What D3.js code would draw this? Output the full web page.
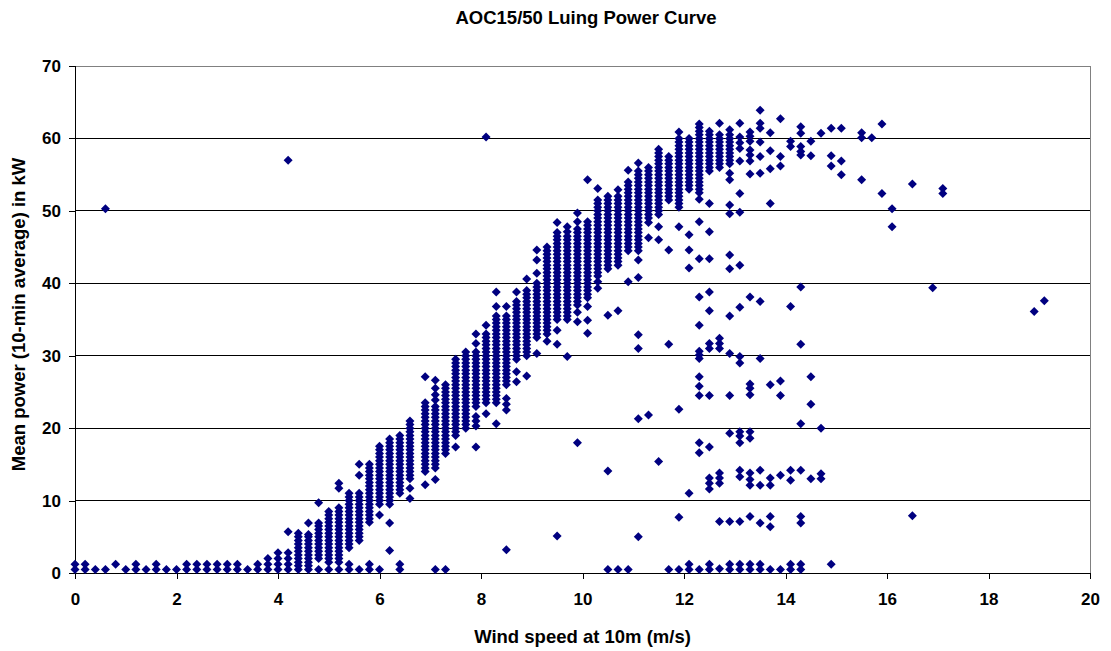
<!DOCTYPE html>
<html lang="en">
<head>
<meta charset="UTF-8">
<title>AOC15/50 Luing Power Curve</title>
<script src="https://cdn.jsdelivr.net/npm/d3@7"></script>
<style>
  body { margin: 0; background: #fff; }
  text { font-family: Arial, "Liberation Sans", sans-serif; font-weight: bold; fill: #000; }
</style>
</head>
<body>
<svg id="chart" width="1111" height="651"></svg>
<script>
// wind speed bins (m/s) and the 10-min mean power readings (kW) seen in each bin
const windBins = [
  0.0, 0.2, 0.4, 0.6, 0.8, 1.0, 1.2, 1.4, 1.6, 1.8, 2.0, 2.2, 2.4, 2.6, 2.8, 3.0, 3.2, 3.4, 3.6, 3.8,
  4.0, 4.2, 4.4, 4.6, 4.8, 5.0, 5.2, 5.4, 5.6, 5.8, 6.0, 6.2, 6.4, 6.6,
  6.9, 7.1, 7.3, 7.5, 7.7, 7.9, 8.1, 8.3, 8.5, 8.7, 8.9, 9.1, 9.3, 9.5, 9.7, 9.9,
  10.1, 10.3, 10.5, 10.7, 10.9, 11.1, 11.3, 11.5, 11.7, 11.9, 12.1, 12.3, 12.5, 12.7, 12.9,
  13.1, 13.3, 13.5, 13.7, 13.9, 14.1, 14.3, 14.5, 14.7, 14.9, 15.1, 15.5, 15.7, 15.9,
  16.1, 16.5, 16.9, 17.1, 18.9, 19.1
];

const powerReadings = [
  [0.5, 1.2], [0.5, 1.2], [0.5], [0.5, 50.3], [1.2], [0.5], [0.5, 1.2], [0.5], [0.5, 1.2], [0.5],
  [0.5], [0.5, 1.2], [0.5, 1.2], [0.5, 1.2], [0.5, 1.2], [0.5, 1.2], [0.5, 1.2], [0.5], [0.5, 1.2], [0.5, 1.2, 2.0],
  [0.5, 1.2, 2.0, 2.8],
  [0.5, 1.2, 2.0, 2.8, 5.7, 57.0],
  [0.5, 1, 1.5, 2, 2.5, 3, 3.5, 4, 4.5, 5, 5.5],
  [0.5, 1, 1.5, 2, 2.5, 3, 3.5, 4, 4.5, 5, 5.3, 6.9],
  [0.5, 2, 2.5, 3, 3.5, 4, 4.5, 5, 5.5, 6, 6.5, 6.9, 9.7],
  [0.5, 1.5, 2, 2.5, 3, 3.5, 4, 4.5, 5, 5.5, 6, 6.5, 7, 7.5, 8, 8.5],
  [0.5, 1.5, 2, 2.5, 3, 3.5, 4, 4.5, 5, 5.5, 6, 6.5, 7, 7.5, 8, 8.5, 9, 11.7, 12.4],
  [0.5, 1.2, 3.5, 4, 4.5, 5, 5.5, 6, 6.5, 7, 7.5, 8, 8.5, 9, 9.5, 10, 10.5, 11],
  [0.5, 4.5, 5, 5.5, 6, 6.5, 7, 7.5, 8, 8.5, 9, 9.5, 10, 10.5, 11, 13.5, 15],
  [0.5, 1.2, 7, 7.5, 8, 8.5, 9, 9.5, 10, 10.5, 11, 11.5, 12, 12.5, 13, 13.5, 14, 14.5, 15],
  [0.5, 8, 9.5, 10, 10.5, 11, 11.5, 12, 12.5, 13, 13.5, 14, 14.5, 15, 15.5, 16, 16.5, 17, 17.5],
  [3.1, 6.9, 9.5, 10, 10.5, 11, 11.5, 12, 12.5, 13, 13.5, 14, 14.5, 15, 15.5, 16, 16.5, 17, 17.5, 18, 18.5],
  [0.5, 1.2, 11, 11.5, 12, 12.5, 13, 13.5, 14, 14.5, 15, 15.5, 16, 16.5, 17, 17.5, 18, 18.5, 19],
  [10.3, 11.7, 13, 13.5, 14, 14.5, 15, 15.5, 16, 16.5, 17, 17.5, 18, 18.5, 19, 19.5, 20, 20.5, 21],
  [12.2, 14, 14.5, 15, 15.5, 16, 16.5, 17, 17.5, 18, 18.5, 19, 19.5, 20, 20.5, 21, 21.5, 22, 22.5, 23, 23.5, 27.1],
  [0.5, 12.9, 14.5, 15, 15.5, 16, 16.5, 17, 17.5, 18, 18.5, 19, 19.5, 20, 20.5, 21, 21.5, 22, 22.5, 23, 23.9, 24.6, 25.5, 26.6],
  [0.5, 16.5, 17, 17.5, 18, 18.5, 19, 19.5, 20, 20.5, 21, 21.5, 22, 22.5, 23, 23.5, 24, 24.5, 25, 25.5, 26],
  [17.4, 19, 19.5, 20, 20.5, 21, 21.5, 22, 22.5, 23, 23.5, 24, 24.5, 25, 25.5, 26, 26.5, 27, 27.5, 28, 28.5, 29, 29.5],
  [20, 20.5, 21, 21.5, 22, 22.5, 23, 23.5, 24, 24.5, 25, 25.5, 26, 26.5, 27, 27.5, 28, 28.5, 29, 29.5, 30, 30.5],
  [17.4, 20.3, 21, 21.6, 23, 23.5, 24, 24.5, 25, 25.5, 26, 26.5, 27, 27.5, 28, 28.5, 29, 29.5, 30, 30.5, 31.7, 33],
  [22, 23.5, 24, 24.5, 25, 25.5, 26, 26.5, 27, 27.5, 28, 28.5, 29, 29.5, 30, 30.5, 31, 31.5, 32, 32.5, 33, 34.2, 60.2],
  [20.6, 23.5, 24, 24.5, 25, 25.5, 26, 26.5, 27, 27.5, 28, 28.5, 29, 29.5, 30, 30.5, 31, 31.5, 32, 32.5, 33, 33.5, 34, 34.5, 35, 35.5, 36.8, 38.8],
  [3.2, 22.5, 23.3, 24.1, 26, 26.5, 27, 27.5, 28, 28.5, 29, 29.5, 30, 30.5, 31, 31.5, 32, 32.5, 33, 33.5, 34, 34.5, 35, 35.5, 36.8],
  [26.4, 27.8, 29.5, 30, 30.5, 31, 31.5, 32, 32.5, 33, 33.5, 34, 34.5, 35, 35.5, 36, 36.5, 37, 37.5, 38.8],
  [27.2, 30, 30.5, 31, 31.5, 32, 32.5, 33, 33.5, 34, 34.5, 35, 35.5, 36, 36.5, 37, 37.5, 38, 38.5, 39, 40.6],
  [30.3, 32.5, 33, 33.5, 34, 34.5, 35, 35.5, 36, 36.5, 37, 37.5, 38, 38.5, 39, 39.5, 40, 41.4, 43.2, 44.6],
  [32, 33, 33.5, 34, 34.5, 35, 35.5, 36, 36.5, 37, 37.5, 38, 38.5, 39, 39.5, 40, 40.5, 41, 41.5, 42, 42.5, 43, 43.5, 44, 44.5, 45],
  [5.1, 31.6, 33.5, 35, 35.5, 36, 36.5, 37, 37.5, 38, 38.5, 39, 39.5, 40, 40.5, 41, 41.5, 42, 42.5, 43, 43.5, 44, 44.5, 45, 45.5, 46, 46.5, 47, 48.4],
  [29.9, 35, 35.5, 36, 36.5, 37, 37.5, 38, 38.5, 39, 39.5, 40, 40.5, 41, 41.5, 42, 42.5, 43, 43.5, 44, 44.5, 45, 45.5, 46, 46.5, 47.1, 47.8],
  [18, 34.7, 36, 37, 37.5, 38, 38.5, 39, 39.5, 40, 40.5, 41, 41.5, 42, 42.5, 43, 43.5, 44, 44.5, 45, 45.5, 46, 46.5, 47, 47.5, 48.5, 49.7],
  [33.1, 34.9, 36.8, 38, 38.5, 39, 39.5, 40, 40.5, 41, 41.5, 42, 42.5, 43, 43.5, 44, 44.5, 45, 45.5, 46, 46.5, 47, 47.5, 48, 48.5, 54.3],
  [39.3, 40.2, 41, 41.5, 42, 42.5, 43, 43.5, 44, 44.5, 45, 45.5, 46, 46.5, 47, 47.5, 48, 48.5, 49, 49.5, 50, 50.5, 51, 51.5, 53.1],
  [0.5, 14.1, 35.6, 42, 42.5, 43, 43.5, 44, 44.5, 45, 45.5, 46, 46.5, 47, 47.5, 48, 48.5, 49, 49.5, 50, 50.5, 51, 51.5, 52],
  [0.5, 36.2, 42.5, 43, 43.5, 44, 44.5, 45, 45.5, 46, 46.5, 47, 47.5, 48, 48.5, 49, 49.5, 50, 50.5, 51, 51.5, 52, 52.9],
  [0.5, 40.2, 44.5, 45, 45.5, 46, 46.5, 47, 47.5, 48, 48.5, 49, 49.5, 50, 50.5, 51, 51.5, 52, 52.5, 53, 53.5, 54, 55.6],
  [5, 21.3, 31, 32.9, 40.8, 43.2, 44.5, 45, 45.5, 46, 46.5, 47, 47.5, 48, 48.5, 49, 49.5, 50, 50.5, 51, 51.5, 52, 52.5, 53, 53.5, 54, 54.5, 55, 55.5, 56.6],
  [21.8, 46.3, 48.4, 49, 49.5, 50, 50.5, 51, 51.5, 52, 52.5, 53, 53.5, 54, 54.5, 55, 55.5, 56],
  [15.4, 46, 47.8, 49.5, 50, 50.5, 51, 51.5, 52, 52.5, 53, 53.5, 54, 54.5, 55, 55.5, 56, 56.5, 57, 57.5, 58, 58.5],
  [0.5, 31.6, 44.6, 51.5, 52, 52.5, 53, 53.5, 54, 54.5, 55, 55.5, 56, 56.5, 57, 57.5],
  [0.5, 7.7, 22.6, 47.8, 50.5, 51, 51.5, 52, 52.5, 53, 53.5, 54, 54.5, 55, 55.5, 56, 56.5, 57, 57.5, 58, 58.5, 59, 59.5, 60, 60.9],
  [0.5, 1.2, 11, 42.1, 44.6, 46.7, 53, 53.5, 54, 54.5, 55, 55.5, 56, 56.5, 57, 57.5, 58, 58.5, 59, 59.5, 60],
  [0.5, 16.6, 18, 24.5, 25.8, 27.1, 29.6, 30.1, 30.6, 34.2, 38.1, 43.4, 48.5, 51.6, 52.5, 53, 53.5, 54, 54.5, 55, 55.5, 56, 56.5, 57, 57.5, 58, 58.5, 59, 59.5, 60, 60.5, 61, 61.5, 62],
  [0.5, 1.2, 11.6, 12.4, 13.1, 17.4, 24.5, 31, 31.7, 36.2, 38.8, 43.4, 47.1, 51, 55.5, 56, 56.5, 57, 57.5, 58, 58.5, 59, 59.5, 60, 60.5, 61],
  [0.6, 7.1, 12.4, 13.1, 13.8, 31, 31.7, 32.4, 56, 56.5, 57, 57.5, 58, 58.5, 59, 59.5, 60, 60.5, 62.1],
  [0.5, 1.2, 7.1, 19.3, 24.5, 30.3, 35.5, 42, 43.9, 49.6, 50.8, 54.3, 55.2, 56.5, 57, 57.5, 58, 58.5, 59, 59.5, 60, 60.5, 61.2],
  [0.5, 1.2, 7.1, 13.3, 14.2, 18, 18.9, 19.5, 29, 29.9, 36.7, 42.5, 49.8, 52.4, 56.9, 58.6, 59.4, 60.2, 62.1],
  [0.5, 1.2, 7.8, 12.1, 12.9, 13.8, 18.6, 19.5, 24.6, 25.5, 26.1, 38.1, 55.1, 56.9, 57.7, 58.4, 59.6, 60.3, 60.9],
  [0.5, 1.2, 6.9, 12.1, 14.2, 29.6, 37.5, 55.2, 57.5, 59.5, 61.4, 62.1, 63.9],
  [0.5, 6.4, 7.8, 12.1, 13.1, 26, 51, 55.8, 58.3, 60.8],
  [0.5, 13.5, 24.5, 26.5, 56.2, 57.5, 62.7],
  [0.5, 1.2, 12.8, 14.2, 36.8, 58.9, 59.6],
  [0.5, 1.2, 6.9, 7.8, 14.2, 20.6, 31.6, 39.5, 57.7, 58.2, 58.9, 60.7, 61.6],
  [13, 23.3, 27.1, 57.6, 59.6],
  [13, 13.7, 20, 60.7],
  [1.2, 56.2, 57.6, 61.4],
  [55, 56.9, 61.4],
  [54.3, 60.1, 60.8],
  [60.1],
  [52.4, 62],
  [47.8, 50.3],
  [7.9, 53.7],
  [39.4],
  [52.4, 53.1],
  [36.1],
  [37.6]
];

const xTicks = [0, 2, 4, 6, 8, 10, 12, 14, 16, 18, 20];
const yTicks = [0, 10, 20, 30, 40, 50, 60, 70];

const points = [];
windBins.forEach(function(w, i){
    powerReadings[i].forEach(function(p){ points.push({wind: w, power: p}); });
});

const svg = d3.select("#chart");
const plotLeft = 75, plotRight = 1090, plotTop = 66, plotBottom = 573;

const x = d3.scaleLinear().domain([0, 20]).range([plotLeft, plotRight]);
const y = d3.scaleLinear().domain([0, 70]).range([plotBottom, plotTop]);

// plot frame (top and right in grey)
svg.append("rect").attr("x", plotLeft).attr("y", plotTop)
    .attr("width", plotRight - plotLeft).attr("height", plotBottom - plotTop)
    .attr("fill", "none").attr("stroke", "#808080").attr("stroke-width", 1).attr("shape-rendering", "crispEdges");

// horizontal gridlines
svg.append("g").selectAll("line").data(yTicks.filter(function(t){ return t > 0 && t < 70; })).enter().append("line")
    .attr("x1", plotLeft).attr("x2", plotRight)
    .attr("y1", function(d){ return y(d); }).attr("y2", function(d){ return y(d); })
    .attr("stroke", "#000").attr("stroke-width", 1).attr("shape-rendering", "crispEdges");

const xAxis = svg.append("g").attr("transform", "translate(0," + plotBottom + ")")
    .call(d3.axisBottom(x).tickValues(xTicks).tickSize(6).tickPadding(14).tickFormat(d3.format("d")));
const yAxis = svg.append("g").attr("transform", "translate(" + plotLeft + ",0)")
    .call(d3.axisLeft(y).tickValues(yTicks).tickSize(6).tickPadding(8).tickFormat(d3.format("d")));

[xAxis, yAxis].forEach(function(g){
    g.select(".domain").attr("stroke", "#000").attr("shape-rendering", "crispEdges");
    g.selectAll(".tick line").attr("stroke", "#000").attr("shape-rendering", "crispEdges");
    g.selectAll(".tick text").style("font-family", "Arial, 'Liberation Sans', sans-serif")
        .style("font-weight", "bold").style("font-size", "17px").attr("fill", "#000");
});

// diamond markers
const diamond = "M0,-4.5L4.5,0L0,4.5L-4.5,0Z";
svg.append("g").selectAll("path").data(points).enter().append("path")
    .attr("d", diamond)
    .attr("transform", function(d){ return "translate(" + x(d.wind) + "," + y(d.power) + ")"; })
    .attr("fill", "#000080");

svg.append("text").attr("x", 586).attr("y", 24).attr("text-anchor", "middle")
    .style("font-size", "18.5px").text("AOC15/50 Luing Power Curve");

svg.append("text").attr("x", (plotLeft + plotRight) / 2).attr("y", 643).attr("text-anchor", "middle")
    .style("font-size", "18.5px").text("Wind speed at 10m (m/s)");

svg.append("text").attr("transform", "translate(25," + ((plotTop + plotBottom) / 2 - 5) + ") rotate(-90)")
    .attr("text-anchor", "middle").style("font-size", "18.5px").text("Mean power (10-min average) in kW");
</script>
</body>
</html>
